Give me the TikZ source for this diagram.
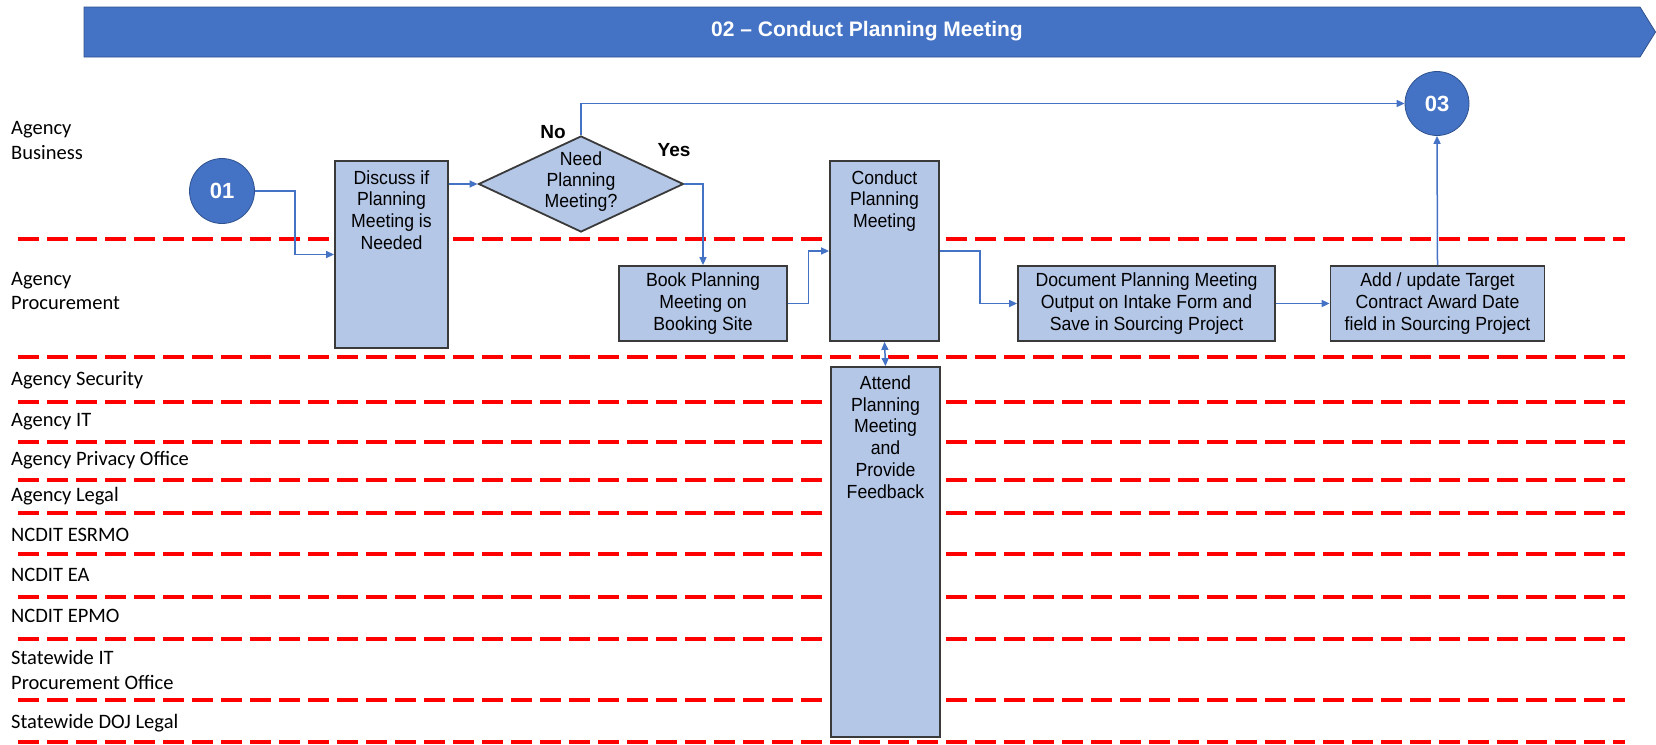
\documentclass[tikz,border=0pt]{standalone}
\usepackage{fontspec}
\setmainfont{Liberation Sans}
\newfontfamily\boxfont[FakeStretch=0.93]{Liberation Sans}
\newfontfamily\lanefont{Carlito}
\usetikzlibrary{arrows.meta,shapes.geometric}
\definecolor{bluemain}{HTML}{4472C4}
\definecolor{blueedge}{HTML}{2F528F}
\definecolor{boxfill}{HTML}{B4C7E7}
\definecolor{boxedge}{HTML}{3A3A3A}
\begin{document}
\begin{tikzpicture}[x=1pt,y=-1pt,
  lane/.style={anchor=west, inner sep=0pt, font=\lanefont\fontsize{20.5}{24.5}\selectfont, align=left},
  sepline/.style={red, line width=3.2pt, dash pattern=on 21pt off 8pt},
  box/.style={draw=boxedge, fill=boxfill, line width=1.8pt, inner sep=0pt},
  txt/.style={font=\boxfont\fontsize{19}{21.7}\selectfont, align=center, inner sep=0pt},
  conn/.style={draw=bluemain, line width=1.5pt, -{Triangle[length=8pt,width=7pt]}},
  circ/.style={circle, fill=bluemain, draw=blueedge, line width=0.8pt, minimum size=65pt, inner sep=0pt, text=white, font=\bfseries\fontsize{22}{26}\selectfont},
  yn/.style={font=\bfseries\fontsize{19}{22}\selectfont, inner sep=0pt}
]
\useasboundingbox (0,0) rectangle (1656,744);

% title bar
\draw[fill=bluemain, draw=blueedge, line width=0.8pt] (84,7) -- (1640,7) -- (1655.5,32) -- (1640,57) -- (84,57) -- cycle;
\node[font=\bfseries\fontsize{21}{25}\selectfont, text=white] (title) at (867,31) {02 – Conduct Planning Meeting};

% lane separators
\foreach \yy in {239,357,402,442,480,513,554,597,639,700,742}
  \draw[sepline] (18,\yy) -- (1625,\yy);

% lane labels
\node[lane] (l1) at (11,140.5) {Agency\\Business};
\node[lane] (l2) at (11,291) {Agency\\Procurement};
\node[lane] (l3) at (11,380.5) {Agency Security};
\node[lane] (l4) at (11,421.5) {Agency IT};
\node[lane] (l5) at (11,460) {Agency Privacy Office};
\node[lane] (l6) at (11,496.5) {Agency Legal};
\node[lane] (l7) at (11,534.5) {NCDIT ESRMO};
\node[lane] (l8) at (11,575) {NCDIT EA};
\node[lane] (l9) at (11,615.5) {NCDIT EPMO};
\node[lane] (l10) at (11,670) {Statewide IT\\Procurement Office};
\node[lane] (l11) at (11,723) {Statewide DOJ Legal};

% nodes
\node[circ] (c01) at (222,191) {01};
\node[circ, minimum size=64pt] (c03) at (1437,103.5) {03};

\node[box, minimum width=113pt, minimum height=187pt,
  label={[txt, anchor=north, yshift=-10pt]north:{Discuss if\\Planning\\Meeting is\\Needed}}] (discuss) at (391.5,254.5) {};

\node[diamond, aspect=2.135, draw=boxedge, fill=boxfill, line width=1.8pt, minimum width=205pt, minimum height=96pt, inner sep=0pt,
  label={[txt, font=\boxfont\fontsize{19}{21}\selectfont, yshift=2pt]center:{Need\\Planning\\Meeting?}}] (decision) at (581,184) {};

\node[box, minimum width=168pt, minimum height=75pt] (book) at (703,303.5) {};
\node[txt] (booktxt) at (book.center) {Book Planning\\Meeting on\\Booking Site};

\node[box, minimum width=109pt, minimum height=180pt,
  label={[txt, anchor=north, yshift=-10pt]north:{Conduct\\Planning\\Meeting}}] (conduct) at (884.5,251) {};

\node[box, minimum width=257pt, minimum height=75pt] (document) at (1146.5,303.5) {};
\node[txt] (doctxt) at (document.center) {Document Planning Meeting\\Output on Intake Form and\\Save in Sourcing Project};

\node[box, minimum width=214pt, minimum height=75pt] (add) at (1437.5,303.5) {};
\node[txt] (addtxt) at (add.center) {Add / update Target\\Contract Award Date\\field in Sourcing Project};

\node[box, minimum width=109pt, minimum height=370pt,
  label={[txt, anchor=north, yshift=-9.5pt]north:{Attend\\Planning\\Meeting\\and\\Provide\\Feedback}}] (attend) at (885.5,552) {};

% labels
\node[yn] (nolbl) at (553,132) {No};
\node[yn] (yeslbl) at (674,150) {Yes};

% connectors
\draw[conn] (c01.east) -- ++(40,0) |- (discuss.west);
\draw[conn] (discuss.east |- decision.west) -- (decision.west);
\draw[conn] (decision.north) |- (c03.west);
\draw[conn] (decision.east) -| (book.north);
\draw[conn] (book.east) -- ++(20.5,0) |- (conduct.west);
\draw[conn] (conduct.east) -- ++(40,0) |- (document.west);
\draw[conn] (document.east) -- (add.west);
\draw[conn] (add.north) -- (c03.south);
\draw[conn, {Triangle[length=8pt,width=7pt]}-{Triangle[length=8pt,width=7pt]}] (conduct.south) -- (attend.north);
\end{tikzpicture}
\end{document}
